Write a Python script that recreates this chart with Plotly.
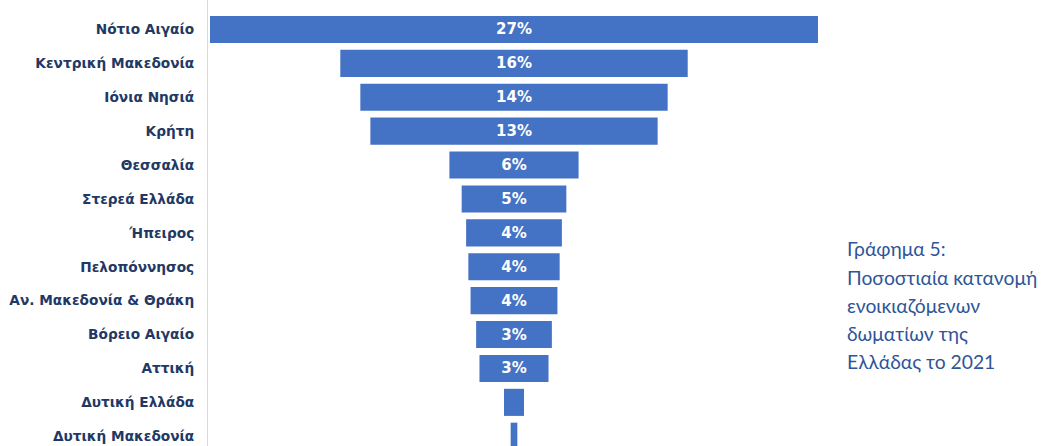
import plotly.graph_objects as go

# Share of rented rooms by region, 2021 (%)
regions = [
    "Νότιο Αιγαίο", "Κεντρική Μακεδονία", "Ιόνια Νησιά", "Κρήτη", "Θεσσαλία",
    "Στερεά Ελλάδα", "Ήπειρος", "Πελοπόννησος", "Αν. Μακεδονία & Θράκη",
    "Βόρειο Αιγαίο", "Αττική", "Δυτική Ελλάδα", "Δυτική Μακεδονία",
]
shares = [27.3, 15.6, 13.8, 12.9, 5.8, 4.7, 4.3, 4.1, 3.9, 3.4, 3.1, 0.9, 0.3]
# the two smallest bars carry no label
show_label = [True] * 11 + [False, False]

caption_lines = [
    "Γράφημα 5:",
    "Ποσοστιαία κατανομή",
    "ενοικιαζόμενων",
    "δωματίων της",
    "Ελλάδας το 2021",
]

W, H = 1047, 446
left_px, right_px = 208, 830
center_px = 514
px_per_unit = 22.27
row_px = 33.9
top_pad = 12.5

x_lo = (left_px - center_px) / px_per_unit
x_hi = (right_px - center_px) / px_per_unit
y_top = -0.5 - top_pad / row_px
y_bot = -0.5 + (H - top_pad) / row_px

fig = go.Figure(
    go.Funnel(
        y=regions,
        x=shares,
        texttemplate=["%{x:.0f}%" if s else "" for s in show_label],
        textposition="inside",
        insidetextanchor="middle",
        constraintext="none",
        textfont=dict(family="DejaVu Sans", size=15, color="white", weight="bold"),
        marker=dict(color="#4472C4", line=dict(width=0)),
        connector=dict(visible=False),
        hoverinfo="y+x",
    )
)

# caption to the right of the funnel, one line per annotation
cap_x = (845 - left_px) / (right_px - left_px)
annotations = []
for i, line in enumerate(caption_lines):
    annotations.append(
        dict(
            text=line,
            xref="paper", yref="paper",
            x=cap_x,
            y=(H - (249 + 28 * i)) / H,
            xanchor="left", yanchor="middle",
            align="left",
            showarrow=False,
            font=dict(family="Lato", size=19.3, color="#2F5597"),
        )
    )

fig.update_layout(
    width=W,
    height=H,
    margin=dict(l=left_px, r=W - right_px, t=0, b=0),
    paper_bgcolor="white",
    plot_bgcolor="white",
    showlegend=False,
    bargap=0.08,
    xaxis=dict(range=[x_lo, x_hi], visible=False, showgrid=False, zeroline=False),
    yaxis=dict(
        range=[y_bot, y_top],
        autorange=False,
        showline=True,
        linecolor="#D9D9D9",
        linewidth=1,
        ticks="",
        ticklabelstandoff=10,
        tickfont=dict(family="DejaVu Sans", size=13.7, color="#1F3864", weight="bold"),
        showgrid=False,
    ),
    annotations=annotations,
)

fig.write_html("out.html")
